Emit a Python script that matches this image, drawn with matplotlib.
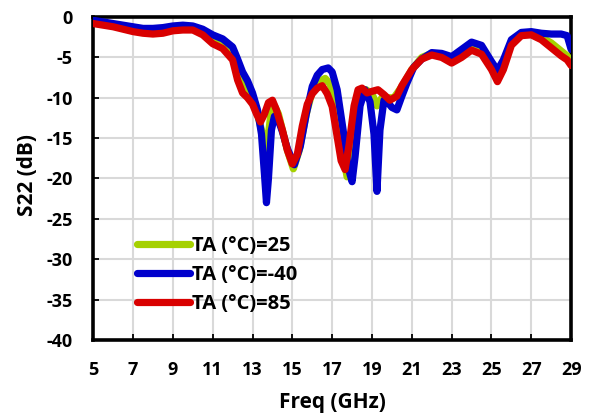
import matplotlib
matplotlib.use("Agg")
import matplotlib.pyplot as plt

# ---- data ----
freq_g = [5, 5.5, 6, 6.5, 7, 7.5, 8, 8.5, 9, 9.5, 10, 10.5, 11, 11.5, 12, 12.25, 12.5, 12.75, 13, 13.25,
          13.45, 13.65, 13.8, 13.95, 14.1, 14.3, 14.5, 14.75, 15.05, 15.35, 15.7, 16.0, 16.3, 16.65, 16.9,
          17.2, 17.5, 17.75, 17.95, 18.2, 18.45, 18.7, 19.0, 19.25, 19.5, 19.8, 20.1, 20.5, 21, 21.5, 22,
          22.5, 23, 23.5, 24, 24.5, 25, 25.3, 25.6, 26, 26.5, 27, 27.5, 28, 28.5, 28.8, 29]
s22_g = [-0.6, -0.8, -1.0, -1.25, -1.5, -1.7, -1.75, -1.65, -1.4, -1.3, -1.35, -1.9, -2.8, -3.3, -4.3, -6.3,
         -8.0, -9.0, -10.2, -12.0, -14.0, -16.5, -14.5, -11.5, -11.0, -12.0, -14.0, -16.5, -18.8, -16.5, -12.0,
         -9.2, -8.0, -7.6, -8.3, -11.5, -16.5, -19.8, -17.0, -11.5, -9.0, -9.0, -9.5, -11.0, -10.0, -10.0,
         -10.0, -8.6, -6.5, -5.0, -4.5, -4.7, -5.3, -4.5, -3.6, -4.0, -6.0, -7.2, -6.0, -3.1, -2.0, -2.0,
         -2.5, -3.2, -4.2, -4.8, -5.5]

freq_b = [5, 5.5, 6, 6.5, 7, 7.5, 8, 8.5, 9, 9.5, 10, 10.5, 11, 11.5, 12, 12.25, 12.5, 12.75, 13, 13.25,
          13.45, 13.6, 13.7, 13.8, 13.95, 14.1, 14.3, 14.5, 14.75, 15.1, 15.4, 15.7, 16.0, 16.25, 16.5, 16.8,
          17.0, 17.25, 17.55, 17.8, 18.0, 18.15, 18.4, 18.65, 18.9, 19.1, 19.25, 19.4, 19.6, 19.8, 20.0, 20.25,
          20.5, 20.75, 21.1, 21.5, 22, 22.5, 23, 23.5, 24, 24.5, 25, 25.3, 25.6, 26, 26.5, 27, 27.5, 28, 28.5,
          28.8, 29]
s22_b = [-0.4, -0.6, -0.8, -1.0, -1.2, -1.4, -1.4, -1.3, -1.1, -1.0, -1.1, -1.5, -2.2, -2.7, -3.7, -5.2,
         -6.8, -7.9, -9.4, -11.5, -14.5, -19.5, -23.0, -20.0, -14.0, -12.3, -12.8, -14.2, -16.3, -18.3, -16.0,
         -12.0, -8.6, -7.2, -6.5, -6.3, -6.8, -9.0, -14.0, -18.6, -20.4, -17.3, -11.0, -9.0, -10.5, -14.5,
         -21.6, -14.0, -10.3, -10.6, -11.2, -11.5, -9.8, -8.2, -6.2, -5.2, -4.4, -4.5, -4.9, -4.0, -3.1,
         -3.5, -5.5, -6.6, -5.3, -2.8, -1.9, -1.8, -2.0, -2.1, -2.1, -2.3, -4.0]

freq_r = [5, 5.5, 6, 6.5, 7, 7.5, 8, 8.5, 9, 9.5, 10, 10.5, 11, 11.5, 12, 12.25, 12.5, 12.75, 13, 13.2,
          13.4, 13.6, 13.8, 14.0, 14.2, 14.5, 14.75, 15.0, 15.25, 15.5, 15.75, 16.0, 16.25, 16.5, 16.75,
          17.0, 17.25, 17.45, 17.65, 17.85, 18.1, 18.3, 18.5, 18.75, 19.0, 19.3, 19.6, 19.9, 20.25, 20.5,
          21, 21.5, 22, 22.5, 23, 23.5, 24, 24.5, 25, 25.3, 25.6, 26, 26.5, 27, 27.5, 28, 28.5, 28.8, 29]
s22_r = [-0.8, -1.0, -1.2, -1.5, -1.8, -2.0, -2.1, -2.0, -1.7, -1.6, -1.6, -2.2, -3.3, -3.9, -5.3, -7.8,
         -9.4, -10.0, -10.8, -12.0, -13.0, -12.0, -10.6, -10.3, -11.5, -14.0, -16.5, -18.2, -17.0, -13.5,
         -10.8, -9.5, -8.8, -8.5, -9.5, -11.1, -14.8, -17.8, -18.9, -15.8, -11.0, -9.0, -8.8, -9.4, -9.2,
         -9.0, -9.6, -10.3, -9.8, -8.5, -6.5, -5.2, -4.7, -5.0, -5.7, -5.0, -4.1, -4.6, -6.5, -8.0, -6.5,
         -3.5, -2.3, -2.2, -2.8, -3.8, -4.8, -5.3, -6.0]

labels = ["TA (°C)=25", "TA (°C)=-40", "TA (°C)=85"]
colors = ["#a5d100", "#0000cc", "#d90000"]
xticks = [5, 7, 9, 11, 13, 15, 17, 19, 21, 23, 25, 27, 29]
yticks = [0, -5, -10, -15, -20, -25, -30, -35, -40]

plt.rcParams['font.family'] = ['Open Sans', 'DejaVu Sans']
plt.rcParams['font.weight'] = 'bold'

fig = plt.figure(figsize=(5.9, 4.17), dpi=100)
ax = fig.add_axes([0.158, 0.185, 0.810, 0.774])

series = [(freq_g, s22_g), (freq_b, s22_b), (freq_r, s22_r)]
for i, ((fx, sy), lab, col) in enumerate(zip(series, labels, colors)):
    ax.plot(fx, sy, color=col, lw=5.2, label=lab, solid_joinstyle='round',
            solid_capstyle='round', zorder=3 + i)

ax.set_xlim(5, 29)
ax.set_ylim(-40, 0)
ax.set_xticks(xticks)
ax.set_yticks(yticks)
ax.set_xticklabels([str(v) for v in xticks], fontsize=13, fontweight='bold')
ax.set_yticklabels([str(v) for v in yticks], fontsize=13, fontweight='bold')
ax.grid(True, color='#d9d9d9', lw=1.5, zorder=0)
ax.set_axisbelow(True)
for sp in ax.spines.values():
    sp.set_linewidth(2.6)
    sp.set_color('black')
ax.tick_params(direction='in', length=4, width=1.3)
ax.tick_params(axis='x', pad=15)
ax.tick_params(axis='y', pad=15)

ax.set_xlabel("Freq (GHz)", fontsize=15, fontweight='bold')
ax.set_ylabel("S22 (dB)", fontsize=15, fontweight='bold')
ax.xaxis.set_label_coords(0.501, -0.195)
ax.xaxis.label.set_va('center')
ax.yaxis.set_label_coords(-0.138, 0.511)
ax.yaxis.label.set_va('center')

leg = ax.legend(loc='upper left', bbox_to_anchor=(0.092, 0.322), frameon=False,
                fontsize=14.5, handlelength=2.6, handletextpad=0.1, labelspacing=0.46,
                borderaxespad=0, borderpad=0)

fig.savefig("out.png", dpi=100)
